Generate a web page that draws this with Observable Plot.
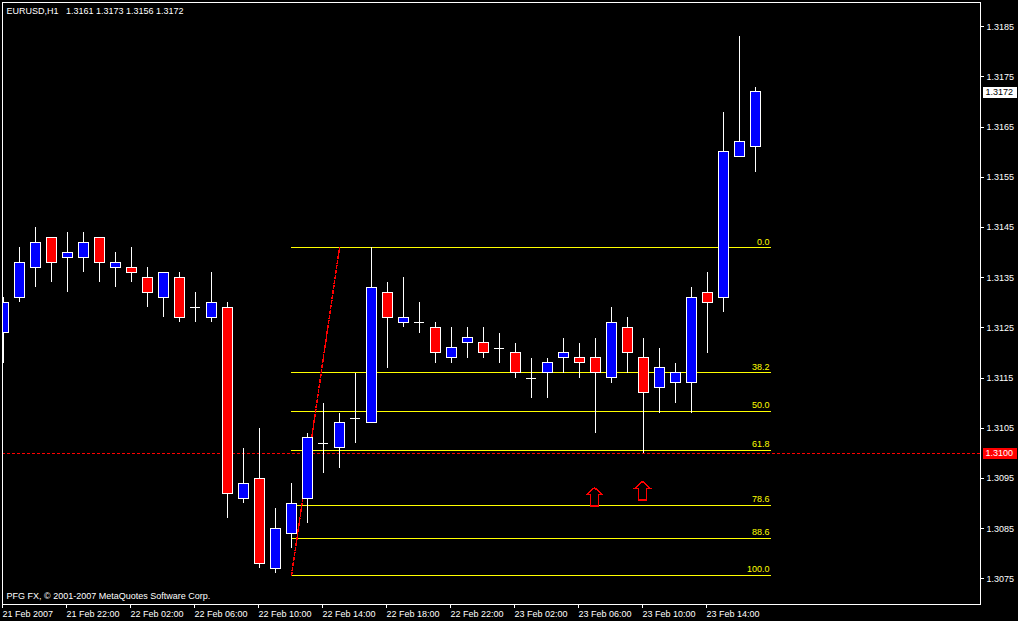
<!DOCTYPE html>
<html>
<head>
<meta charset="utf-8">
<script src="https://cdn.jsdelivr.net/npm/d3@7"></script>
<script src="https://cdn.jsdelivr.net/npm/@observablehq/plot@0.6"></script>
<style>
  html, body { margin: 0; padding: 0; background: #000; }
</style>
</head>
<body>
<div id="chart"></div>
<script>
// EURUSD hourly bars, 21 Feb 2007 18:00 through 23 Feb 2007 17:00
const symbolName = "EURUSD";
const timeframe = "H1";
const opens  = [1.3124,1.3131,1.3137,1.3143,1.3139,1.3139,1.3143,1.3137,1.3137,1.3135,1.3131,1.3135,1.3129,1.3127,1.3129,1.3091,1.3095,1.3077,1.3084,1.3091,1.3102,1.3101,1.3107,1.3106,1.3132,1.3126,1.3126,1.3125,1.3119,1.3122,1.3122,1.3121,1.3120,1.3115,1.3116,1.3119,1.3119,1.3119,1.3115,1.3125,1.3119,1.3113,1.3114,1.3114,1.3132,1.3131,1.3159,1.3161];
const highs  = [1.3131,1.3141,1.3145,1.3143,1.3144,1.3144,1.3143,1.3140,1.3141,1.3137,1.3136,1.3136,1.3132,1.3136,1.3130,1.3101,1.3105,1.3089,1.3094,1.3104,1.3110,1.3108,1.3116,1.3141,1.3134,1.3135,1.3130,1.3126,1.3125,1.3125,1.3125,1.3124,1.3122,1.3119,1.3119,1.3123,1.3122,1.3123,1.3129,1.3127,1.3123,1.3121,1.3118,1.3133,1.3136,1.3168,1.3183,1.3173];
const lows   = [1.3118,1.3130,1.3133,1.3134,1.3132,1.3136,1.3134,1.3133,1.3134,1.3129,1.3127,1.3126,1.3126,1.3126,1.3087,1.3090,1.3077,1.3076,1.3081,1.3086,1.3096,1.3097,1.3102,1.3106,1.3117,1.3125,1.3124,1.3118,1.3118,1.3119,1.3119,1.3118,1.3115,1.3111,1.3111,1.3116,1.3115,1.3104,1.3114,1.3116,1.3100,1.3108,1.3110,1.3108,1.3120,1.3128,1.3159,1.3156];
const closes = [1.3130,1.3138,1.3142,1.3138,1.3140,1.3142,1.3138,1.3138,1.3136,1.3132,1.3136,1.3127,1.3129,1.3130,1.3092,1.3094,1.3078,1.3085,1.3090,1.3103,1.3102,1.3106,1.3107,1.3133,1.3127,1.3127,1.3126,1.3120,1.3121,1.3123,1.3120,1.3121,1.3116,1.3115,1.3118,1.3120,1.3118,1.3116,1.3126,1.3120,1.3112,1.3117,1.3116,1.3131,1.3130,1.3160,1.3162,1.3172];

// time axis: a labelled tick every four bars
const tickBars = [0, 4, 8, 12, 16, 20, 24, 28, 32, 36, 40, 44];
const tickLabels = ["21 Feb 2007", "21 Feb 22:00", "22 Feb 02:00", "22 Feb 06:00", "22 Feb 10:00", "22 Feb 14:00",
                    "22 Feb 18:00", "22 Feb 22:00", "23 Feb 02:00", "23 Feb 06:00", "23 Feb 10:00", "23 Feb 14:00"];
const priceTicks = [1.3075, 1.3085, 1.3095, 1.3105, 1.3115, 1.3125, 1.3135, 1.3145, 1.3155, 1.3165, 1.3175, 1.3185];

// Fibonacci retracement of the 1.30757 -> 1.3141 swing
const fibHigh = 1.3141;
const fibLow = 1.30757;
const fibRatios = [0, 0.382, 0.5, 0.618, 0.786, 0.886, 1];
const fibStartBar = 18;
const fibEndBar = 48;
const trendBars = [18, 21];

// horizontal level and buy arrows
const levelLine = 1.3100;
const arrowBars = [37, 40];
const arrowPrices = [1.30932, 1.30944];

const copyright = "PFG FX, \u00a9 2001-2007 MetaQuotes Software Corp.";

// ---- derived tables ----
const candles = opens.map((o, i) => ({bar: i, open: o, high: highs[i], low: lows[i], close: closes[i]}));
const bodies = candles.filter(d => d.open !== d.close);
const dojis = candles.filter(d => d.open === d.close);
const fibLevels = fibRatios.map(r => ({ratio: r, price: fibHigh - r * (fibHigh - fibLow)}));
const trendPoints = [{bar: trendBars[0], price: fibLow}, {bar: trendBars[1], price: fibHigh}];
const arrows = arrowBars.map((b, i) => ({bar: b, price: arrowPrices[i]}));
const last = candles[candles.length - 1];
const tags = [{price: last.close, kind: "bid"}, {price: levelLine, kind: "level"}];
const fmt = v => v.toFixed(4);
const title = `${symbolName},${timeframe}\u00a0\u00a0\u00a0${fmt(last.open)} ${fmt(last.high)} ${fmt(last.low)} ${fmt(last.close)}`;

const BULL = "#0000ff", BEAR = "#ff0000", FIB = "#ffff00", WHITE = "#ffffff", RED = "#ff0000";
const HALF = 5 / 16; // half body width, in bars

// hollow up arrow, tip at the anchor point
const upArrow = {
  draw(ctx) {
    ctx.moveTo(0, 0);
    ctx.lineTo(8, 7);
    ctx.lineTo(4, 7);
    ctx.lineTo(4, 18.5);
    ctx.lineTo(-4, 18.5);
    ctx.lineTo(-4, 7);
    ctx.lineTo(-8, 7);
    ctx.closePath();
  }
};
// price tag box on the right scale
const tagBox = {
  draw(ctx) { ctx.rect(-17, -5.5, 34, 11); }
};

const chart = Plot.plot({
  width: 1018,
  height: 621,
  marginLeft: 2,
  marginTop: 2,
  marginRight: 38,
  marginBottom: 17,
  style: {
    background: "#000",
    color: WHITE,
    fontFamily: "'Liberation Sans', Arial, sans-serif",
    fontSize: "9px",
    shapeRendering: "crispEdges"
  },
  x: {domain: [-1 / 16, 61 + 1 / 16], axis: null},
  y: {domain: [1.306992, 1.318984], axis: null},
  color: {type: "identity"},
  marks: [
    Plot.ruleY([levelLine], {stroke: RED, strokeWidth: 1, strokeDasharray: "3,2", shapeRendering: "auto"}),
    Plot.ruleY(fibLevels, {y: "price", x1: fibStartBar, x2: fibEndBar, stroke: FIB}),
    Plot.text(fibLevels, {
      x: fibEndBar, y: "price", text: d => (d.ratio * 100).toFixed(1),
      fill: FIB, textAnchor: "end", lineAnchor: "middle", dx: -2, dy: -6
    }),
    Plot.line(trendPoints, {x: "bar", y: "price", stroke: RED, strokeDasharray: "3,2"}),
    Plot.ruleX(candles, {x: "bar", y1: "low", y2: "high", stroke: WHITE, clip: true}),
    Plot.rect(bodies, {
      x1: d => d.bar - HALF, x2: d => d.bar + HALF, y1: "open", y2: "close",
      fill: d => d.close > d.open ? BULL : BEAR, stroke: WHITE, clip: true
    }),
    Plot.ruleY(dojis, {y: "open", x1: d => d.bar - HALF, x2: d => d.bar + HALF, stroke: WHITE}),
    Plot.dot(arrows, {x: "bar", y: "price", symbol: upArrow, stroke: RED, fill: "none", dx: -1}),
    Plot.text([title], {frameAnchor: "top-left", text: d => d, fill: WHITE, lineAnchor: "middle", dx: 4, dy: 9}),
    Plot.text([copyright], {frameAnchor: "bottom-left", text: d => d, fill: WHITE, lineAnchor: "middle", dx: 4, dy: -8}),
    Plot.axisY(priceTicks, {anchor: "right", tickSize: 3, tickPadding: 3, tickFormat: fmt, label: null}),
    Plot.axisX(tickBars, {
      anchor: "bottom", tickSize: 4, tickPadding: 2, textAnchor: "start", dx: -1, label: null,
      tickFormat: d => tickLabels[tickBars.indexOf(d)]
    }),
    Plot.dot(tags, {y: "price", frameAnchor: "right", dx: 19.5, symbol: tagBox,
      fill: d => d.kind === "bid" ? WHITE : RED, stroke: "none"}),
    Plot.text(tags, {y: "price", frameAnchor: "right", textAnchor: "start", lineAnchor: "middle", dx: 5,
      text: d => fmt(d.price), fill: d => d.kind === "bid" ? "#000" : WHITE}),
    Plot.frame({stroke: WHITE})
  ]
});

document.getElementById("chart").appendChild(chart);
</script>
</body>
</html>
